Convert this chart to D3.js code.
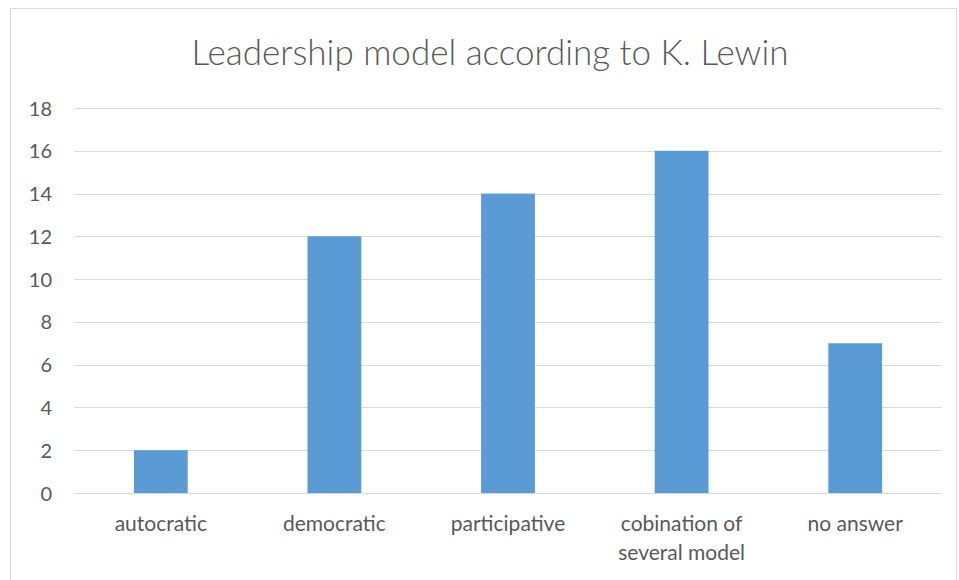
<html>
<head>
<title>Leadership model</title>
<style type="text/css">
    body{ margin:0px; padding:0px; background:#fff; }
    svg{ width:959px; height:580px; font-family: Lato, "Open Sans", sans-serif; }
    .grid line{ stroke:#d9d9d9; stroke-width:1px; }
    .tick text{ fill:#595959; }
</style>
<script src="https://d3js.org/d3.v7.min.js"></script>
<script type="text/javascript">
    var categories = ["autocratic", "democratic", "participative", "cobination of several model", "no answer"];
    var values = [2, 12, 14, 16, 7];
    var yTicks = [0, 2, 4, 6, 8, 10, 12, 14, 16, 18];
    var chartTitle = "Leadership model according to K. Lewin";

    window.onload = function(){
        var svg = d3.select("body").append("svg");

        // outer frame of the chart
        svg.append("rect").attr("x", 10.5).attr("y", 8.5).attr("width", 946).attr("height", 580)
            .attr("fill", "#fff").attr("stroke", "#d9d9d9");

        var plotLeft = 74, plotRight = 942, plotTop = 108, plotBottom = 493;

        var x = d3.scaleBand().domain(categories).range([plotLeft, plotRight]).padding(0);
        var y = d3.scaleLinear().domain([0, 18]).range([plotBottom, plotTop]);

        // gridlines
        svg.append("g").attr("class", "grid").selectAll("line").data(yTicks).enter().append("line")
            .attr("x1", plotLeft).attr("x2", plotRight)
            .attr("y1", function(d){ return Math.round(y(d)) + 0.5; })
            .attr("y2", function(d){ return Math.round(y(d)) + 0.5; });

        // y axis labels
        var yAxis = svg.append("g").attr("transform", "translate(" + (plotLeft - 22) + ",0)")
            .call(d3.axisLeft(y).tickValues(yTicks).tickSize(0).tickPadding(0));
        yAxis.select(".domain").remove();
        yAxis.selectAll("text").attr("font-size", 20).attr("font-family", "Lato, sans-serif").attr("dy", "0.35em");

        var barW = x.bandwidth() * 0.31;
        svg.selectAll(".bar").data(values).enter().append("rect").attr("class", "bar")
            .attr("x", function(d, i){ return x(categories[i]) + x.bandwidth() / 2 - barW / 2; })
            .attr("y", function(d){ return y(d); })
            .attr("width", barW)
            .attr("height", function(d){ return y(0) - y(d); })
            .attr("fill", "#5b9bd5");

        // category labels, wrapped like the original
        var labelLines = {"cobination of several model": ["cobination of", "several model"]};
        var xl = svg.append("g");
        categories.forEach(function(c){
            var lines = labelLines[c] || [c];
            var t = xl.append("text").attr("text-anchor", "middle").attr("font-size", 21).attr("fill", "#595959");
            lines.forEach(function(l, j){
                t.append("tspan").attr("x", x(c) + x.bandwidth() / 2).attr("y", 531 + j * 29).text(l);
            });
        });

        svg.append("text").attr("x", 490).attr("y", 65).attr("text-anchor", "middle")
            .attr("font-size", 35).attr("fill", "#595959").attr("font-weight", 300).text(chartTitle);
    }
</script>
</head>
<body>
</body>
</html>
